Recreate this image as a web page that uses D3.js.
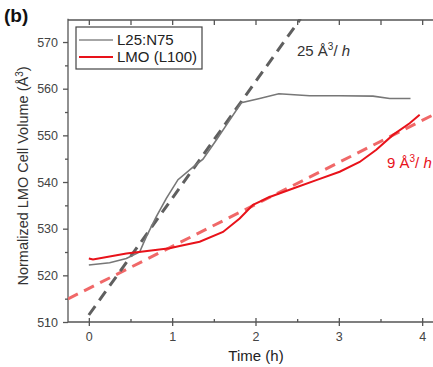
<!DOCTYPE html>
<html>
<head>
<meta charset="utf-8">
<script src="https://cdn.jsdelivr.net/npm/d3@7"></script>
<style>
  body { margin: 0; background: #fff; }
  text { font-family: "Liberation Sans", Arial, sans-serif; }
</style>
</head>
<body>
<script>
// L25:N75 (gray) readings
var grayTime = [0, 0.25, 0.45, 0.61, 0.69, 0.81, 0.93, 1.07, 1.25, 1.37, 1.53, 1.68, 1.83, 2.05, 2.28, 2.65, 3.0, 3.41, 3.61, 3.86];
var grayVol  = [522.2, 522.7, 523.6, 525.0, 528.3, 532.6, 536.5, 540.5, 543.2, 544.9, 549.0, 553.0, 557.0, 557.9, 558.9, 558.5, 558.5, 558.4, 557.9, 557.9];
// LMO (L100) (red) readings
var redTime = [0, 0.05, 0.45, 0.65, 0.97, 1.09, 1.33, 1.61, 1.81, 1.97, 2.09, 2.17, 2.45, 2.73, 3.01, 3.25, 3.45, 3.65, 3.85, 3.97];
var redVol  = [523.6, 523.4, 524.7, 525.1, 525.8, 526.3, 527.2, 529.3, 532.2, 535.1, 536.1, 536.8, 538.6, 540.4, 542.2, 544.3, 546.9, 550.1, 552.6, 554.4];
// linear fits (intercept, slope) and their x extents
var grayFit = [511.5, 25], grayFitX = [0, 2.54];
var redFit  = [517.2, 9],  redFitX  = [-0.25, 4.25];
var xTicks = [0, 1, 2, 3, 4];
var yTicks = [510, 520, 530, 540, 550, 560, 570];
var seriesNames = ["L25:N75", "LMO (L100)"];

var width = 433, height = 367;
var svg = d3.select("body").append("svg")
    .attr("width", width).attr("height", height);

var x = d3.scaleLinear().domain([-0.25, 4.25]).range([68, 443]);
var y = d3.scaleLinear().domain([510, 575]).range([322, 18.7]);

var axisColor = "#555";

svg.append("clipPath").attr("id", "clip")
  .append("rect").attr("x", 68).attr("y", 19).attr("width", 400).attr("height", 303);

// axes
var bottomAx = svg.append("g").attr("transform", "translate(0,322)")
    .call(d3.axisBottom(x).tickValues(xTicks).tickSize(4).tickPadding(6).tickFormat(d3.format("d")));
var bottomMinor = svg.append("g").attr("transform", "translate(0,322)")
    .call(d3.axisBottom(x).tickValues([-0.5, 0.5, 1.5, 2.5, 3.5]).tickSize(-3).tickFormat(""));
var bottomInner = svg.append("g").attr("transform", "translate(0,322)")
    .call(d3.axisBottom(x).tickValues(xTicks).tickSize(-4).tickFormat(""));
var leftAx = svg.append("g").attr("transform", "translate(68,0)")
    .call(d3.axisLeft(y).tickValues(yTicks).tickSize(5).tickPadding(5));
var leftMinor = svg.append("g").attr("transform", "translate(68,0)")
    .call(d3.axisLeft(y).tickValues([515, 525, 535, 545, 555, 565]).tickSize(3).tickFormat(""));
var topAx = svg.append("g").attr("transform", "translate(0,20)")
    .call(d3.axisTop(x).tickValues([0, 0.5, 1, 1.5, 2, 2.5, 3, 3.5, 4]).tickSize(-5).tickFormat(""));

[bottomAx, bottomMinor, bottomInner, leftAx, leftMinor, topAx].forEach(function(g) {
  g.selectAll("path").attr("stroke", axisColor).attr("stroke-width", 1.3);
  g.selectAll("line").attr("stroke", axisColor).attr("stroke-width", 1.3);
  g.selectAll("text").attr("fill", "#444").attr("font-size", "12.5px")
    .style("font-family", "Liberation Sans, Arial, sans-serif");
});
[bottomMinor, bottomInner, leftMinor].forEach(function(g) { g.select("path").remove(); });
leftAx.select("path").attr("d", "M0," + y(575) + "V322");
topAx.select("path").attr("d", "M68,0H433");
bottomAx.select("path").attr("d", "M68,0H433");

// plot content
var plot = svg.append("g").attr("clip-path", "url(#clip)");
var line = d3.line().x(function(d) { return x(d[0]); }).y(function(d) { return y(d[1]); });

function fitLine(fit, ext) {
  return ext.map(function(t) { return [t, fit[0] + fit[1] * t]; });
}

plot.append("path")
    .attr("d", line(fitLine(redFit, redFitX)))
    .attr("fill", "none").attr("stroke", "#f06868").attr("stroke-width", 3)
    .attr("stroke-dasharray", "11,7");
plot.append("path")
    .attr("d", line(fitLine(grayFit, grayFitX)))
    .attr("fill", "none").attr("stroke", "#5f5f5f").attr("stroke-width", 3)
    .attr("stroke-dasharray", "11,7");

plot.append("path")
    .attr("d", line(d3.zip(grayTime, grayVol)))
    .attr("fill", "none").attr("stroke", "#777").attr("stroke-width", 1.6);
plot.append("path")
    .attr("d", line(d3.zip(redTime, redVol)))
    .attr("fill", "none").attr("stroke", "#e8121a").attr("stroke-width", 2);

// annotations
svg.append("text").attr("x", 297).attr("y", 56)
    .attr("font-size", "15px").attr("fill", "#333")
    .html('25 Å<tspan dy="-6" font-size="10px">3</tspan><tspan dy="6">/ </tspan><tspan font-style="italic">h</tspan>');
svg.append("text").attr("x", 387).attr("y", 168)
    .attr("font-size", "15px").attr("fill", "#e8121a")
    .html('9 Å<tspan dy="-6" font-size="10px">3</tspan><tspan dy="6">/ </tspan><tspan font-style="italic">h</tspan>');

// legend
var legend = svg.append("g");
legend.append("rect").attr("x", 76).attr("y", 27).attr("width", 126).attr("height", 42)
    .attr("fill", "#fff").attr("stroke", "#444").attr("stroke-width", 1.2);
var legColors = ["#888", "#e8121a"];
seriesNames.forEach(function(name, i) {
  var ly = 40 + i * 17;
  legend.append("line").attr("x1", 79).attr("x2", 113).attr("y1", ly).attr("y2", ly)
      .attr("stroke", legColors[i]).attr("stroke-width", i ? 2 : 1.6);
  legend.append("text").attr("x", 117).attr("y", ly + 5)
      .attr("font-size", "15px").attr("fill", "#222").text(name);
});

// labels
svg.append("text").attr("x", 4).attr("y", 22)
    .attr("font-size", "19px").attr("font-weight", "bold").attr("fill", "#111").text("(b)");

svg.append("text")
    .attr("transform", "translate(28,176) rotate(-90)")
    .attr("text-anchor", "middle").attr("font-size", "14.5px").attr("fill", "#333")
    .html('Normalized LMO Cell Volume (Å<tspan dy="-5" font-size="10px">3</tspan><tspan dy="5">)</tspan>');

svg.append("text").attr("x", 256).attr("y", 361)
    .attr("text-anchor", "middle").attr("font-size", "15px").attr("fill", "#222")
    .text("Time (h)");
</script>
</body>
</html>
